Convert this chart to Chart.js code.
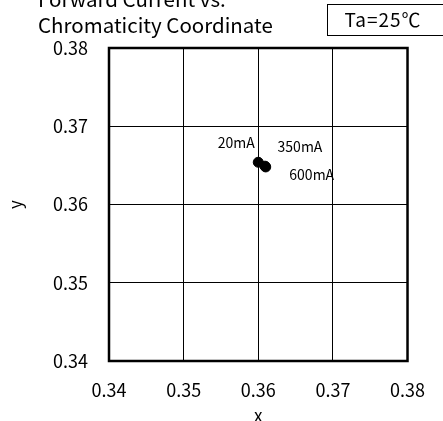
<!DOCTYPE html>
<html lang="ja">
  <head>
  <meta charset="utf-8">
  <title>Forward Current vs. Chromaticity Coordinate</title>
  <script src="https://cdn.jsdelivr.net/npm/chart.js@4.4.0/dist/chart.umd.min.js"></script>
  <style>
    html, body { margin: 0; padding: 0; background: #fff; }
    #wrap { width: 443px; height: 421px; position: relative; }
  </style>
  </head>
  <body>
    <div id="wrap"><canvas id="myChart" width="443" height="421"></canvas></div>
  <script>
    // 読み取った値
    const currents = ["20mA", "350mA", "600mA"];
    const cx = [0.3600, 0.3609, 0.3610];
    const cy = [0.3654, 0.3649, 0.3648];
    const xTicks = [0.34, 0.35, 0.36, 0.37, 0.38];
    const yTicks = [0.34, 0.35, 0.36, 0.37, 0.38];
    // ラベル位置のずれ (px)
    const labelDx = [-22, 35, 46];
    const labelDy = [-20, -19, 8];

    const FONT = "'Noto Sans CJK JP', 'Noto Sans', sans-serif";

    const pts = cx.map((v, i) => ({x: v, y: cy[i]}));

    const decor = {
      id: 'decor',
      afterDraw(chart) {
        const ctx = chart.ctx;
        const a = chart.chartArea;
        const xs = chart.scales.x, ys = chart.scales.y;
        ctx.save();
        // タイトル
        ctx.fillStyle = '#000';
        ctx.font = "20.5px " + FONT;
        ctx.textAlign = 'left';
        ctx.textBaseline = 'alphabetic';
        ctx.fillText("Forward Current vs.", 38, 7);
        ctx.fillText("Chromaticity Coordinate", 38, 33);
        // Ta box
        ctx.lineWidth = 1;
        ctx.strokeStyle = '#000';
        ctx.strokeRect(327.5, 4.5, 130, 31);
        ctx.textAlign = 'center';
        ctx.font = "19px " + FONT;
        ctx.letterSpacing = "1px";
        ctx.fillText("Ta=25℃", 383, 27);
        ctx.letterSpacing = "0px";
        // 枠
        ctx.lineWidth = 2.5;
        ctx.strokeRect(a.left, a.top, a.right - a.left, a.bottom - a.top);
        // 電流ラベル
        ctx.font = "14px " + FONT;
        ctx.textBaseline = 'middle';
        currents.forEach((c, i) => {
          ctx.fillText(c, xs.getPixelForValue(cx[i]) + labelDx[i], ys.getPixelForValue(cy[i]) + labelDy[i]);
        });
        ctx.restore();
      }
    };

    const tickFont = {family: FONT, size: 18};

    new Chart(document.getElementById('myChart'), {
      type: 'scatter',
      data: {
        datasets: [{
          data: pts,
          backgroundColor: '#000',
          borderColor: '#000',
          pointRadius: 5,
          pointHoverRadius: 5
        }]
      },
      options: {
        responsive: false,
        animation: false,
        plugins: { legend: {display: false}, tooltip: {enabled: false} },
        layout: { padding: {top: 48, right: 31, left: 0, bottom: 0} },
        scales: {
          x: {
            type: 'linear', min: 0.34, max: 0.38,
            afterBuildTicks: s => { s.ticks = xTicks.map(v => ({value: v})); },
            afterFit: s => { s.height = 60; },
            ticks: { color: '#000', font: tickFont, padding: 18, callback: v => v.toFixed(2), maxRotation: 0 },
            grid: { color: '#000', lineWidth: 1, drawTicks: false },
            border: { display: false },
            title: { display: true, text: 'x', color: '#000', font: {family: FONT, size: 17}, padding: {top: 0, bottom: -5} }
          },
          y: {
            type: 'linear', min: 0.34, max: 0.38,
            afterBuildTicks: s => { s.ticks = yTicks.map(v => ({value: v})); },
            afterFit: s => { s.width = 109; },
            ticks: { color: '#000', font: tickFont, padding: 21, callback: v => v.toFixed(2) },
            grid: { color: '#000', lineWidth: 1, drawTicks: false },
            border: { display: false },
            title: { display: true, text: 'y', color: '#000', font: {family: FONT, size: 17}, padding: {top: 5, bottom: 0} }
          }
        }
      },
      plugins: [decor]
    });
  </script>
  </body>
</html>
